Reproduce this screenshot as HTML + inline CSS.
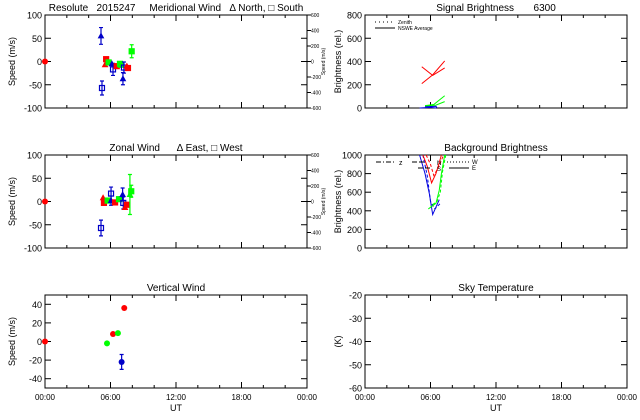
<!DOCTYPE html>
<html><head><meta charset="utf-8"><style>
body{margin:0;background:#fff}
svg{display:block;font-family:"Liberation Sans",sans-serif}
svg text{white-space:pre}
</style></head><body>
<svg id="c" width="640" height="420" viewBox="0 0 640 420" xml:space="preserve"></svg>
<script>
// ---------- data ----------
const hourTicks=[0,6,12,18,24];
const hourLabels=["00:00","06:00","12:00","18:00","00:00"];
const merH=[0,5.13,5.22,5.5,5.6,5.83,6.13,6.23,6.57,6.87,6.96,7.14,7.23,7.5,7.6,7.94];
const merV=[0,55,-57,-7,5,-2,-5,-17,-10,-5,-7,-37,-13,-10,-14,22];
const merE=[0,18,15,0,0,0,0,13,0,0,0,13,12,0,0,14];
const merC=["r","b","b","r","r","g","b","b","r","g","g","b","b","r","r","g"];
const merM=["c","t","s","t","s","s","t","s","s","s","s","t","s","t","s","s"];
const zonH=[0,5.13,5.32,5.4,5.74,6.05,6.05,6.42,6.78,7.11,7.17,7.33,7.5,7.78,7.9];
const zonV=[0,-57,8,-3,2,2,17,-2,5,15,-3,-13,-7,15,22];
const zonE=[0,17,0,0,0,10,14,0,0,14,13,0,0,43,13];
const zonC=["r","b","r","r","g","b","b","r","g","b","b","r","r","g","g"];
const zonM=["c","s","t","s","s","t","s","s","s","t","s","t","s","t","s"];
const verH=[0,5.68,6.23,6.68,7.02,7.26];
const verV=[0,-2,8,9,-22,36];
const verE=[0,0,0,0,8,0];
const verC=["r","g","r","g","b","r"];
const sigRed1H=[5.2,6.2,7.3], sigRed1V=[210,285,405];
const sigRed2H=[5.2,6.2,7.3], sigRed2V=[355,280,345];
const sigGrn1H=[5.5,6.3,7.3], sigGrn1V=[20,30,105];
const sigGrn2H=[5.5,6.5,7.3], sigGrn2V=[15,25,55];
const sigBlu1H=[5.0,6.0,6.5], sigBlu1V=[0,5,0];
const sigBlu2H=[5.5,6.5,6.6], sigBlu2V=[10,15,0];
const bgBlu1H=[5.0,5.5,5.9,6.2,6.8], bgBlu1V=[1000,800,580,360,520];
const bgBlu2H=[5.3,5.7,6.0,6.4,6.9], bgBlu2V=[1000,780,500,420,480];
const bgGrn1H=[7.3,7.0,6.8,6.5,5.8], bgGrn1V=[1000,800,620,480,420];
const bgGrn2H=[7.4,7.1,6.9,6.6,6.0], bgGrn2V=[1000,820,600,500,450];
const bgRed1H=[5.3,5.7,6.1,6.5,7.0], bgRed1V=[1000,880,700,800,1000];
const bgRed2H=[5.6,6.0,6.3,6.7,7.2], bgRed2V=[1000,900,780,860,1000];

// ---------- drawing ----------
const svg=document.getElementById('c');
const NS="http://www.w3.org/2000/svg";
const COL={r:"#ff0000",g:"#00ff00",b:"#0000c8"};
function mk(tag,attrs,parent){const e=document.createElementNS(NS,tag);for(const k in attrs)e.setAttribute(k,attrs[k]);(parent||svg).appendChild(e);return e;}
function txt(x,y,s,size,anchor,parent,name){const t=mk('text',{x:x,y:y,'font-size':size,'text-anchor':anchor||'start',fill:'#000'},parent);t.textContent=s;

return t;}
function panel(name,x0,y0,w,h,ymin,ymax,yt,title,ylabel,xlabels,yoff){
  const g=mk('g',{});
  
  
  const xs=hr=>x0+hr/24*w, ys=v=>y0+h-(v-ymin)/(ymax-ymin)*h;
  const f=mk('rect',{x:x0,y:y0,width:w,height:h,fill:'none',stroke:'#000','stroke-width':1},g);
  
  
  for(let hr=0;hr<=24;hr+=2){const L=hr%6==0?6:3;
    mk('line',{x1:xs(hr),x2:xs(hr),y1:y0+h,y2:y0+h-L,stroke:'#000'},g);
    mk('line',{x1:xs(hr),x2:xs(hr),y1:y0,y2:y0+L,stroke:'#000'},g);}
  yt.forEach(v=>{mk('line',{x1:x0,x2:x0+6,y1:ys(v),y2:ys(v),stroke:'#000'},g);
    mk('line',{x1:x0+w,x2:x0+w-6,y1:ys(v),y2:ys(v),stroke:'#000'},g);
    txt(x0-3,ys(v)+3.5,String(v),9,'end',g,'y-tick-label');});
  txt(x0+w/2,y0-4,title,10,'middle',g,'panel-title');
  const yl=txt(0,0,ylabel,9,'middle',g,'y-axis-title');
  yl.setAttribute('transform',`translate(${x0-yoff},${y0+h/2}) rotate(-90)`);
  if(xlabels){hourTicks.forEach((t,i)=>txt(xs(t),y0+h+12,hourLabels[i],8,'middle',g,'x-tick-label'));
    txt(x0+w/2,y0+h+23,'UT',9,'middle',g,'x-axis-title');}
  return {g,xs,ys};
}
function marker(p,hr,v,c,m,err){
  const x=p.xs(hr),y=p.ys(v),col=COL[c];
  if(err){const e=mk('path',{d:`M${x},${p.ys(v-err)}V${p.ys(v+err)}M${x-2},${p.ys(v-err)}h4M${x-2},${p.ys(v+err)}h4`,stroke:col,'stroke-width':1.2,fill:'none'},p.g);
    
    }
  let el;
  if(m=='c')el=mk('circle',{cx:x,cy:y,r:3,fill:col},p.g);
  else if(m=='t')el=mk('path',{d:`M${x-2.5},${y+2}L${x+2.5},${y+2}L${x},${y-2.5}Z`,fill:col,stroke:col},p.g);
  else el=mk('rect',{x:x-2.5,y:y-2.5,width:5,height:5,fill:c=='b'?'none':col,stroke:col,'stroke-width':1.2},p.g);
  
  
}
function line(p,H,V,c,dash){
  const d=H.map((hr,i)=>(i?'L':'M')+p.xs(hr)+','+p.ys(V[i])).join('');
  const l=mk('path',{d:d,fill:'none',stroke:COL[c]=='#0000c8'?'#0000e0':COL[c],'stroke-width':1,'stroke-dasharray':dash||'none'},p.g);
  
  
}
function rightAxis(p,x0,y0,h){
  const labs=["600","400","200","0","-200","-400","-600"];
  labs.forEach((s,i)=>{const y=y0+i*h/6;mk('line',{x1:x0,x2:x0+4,y1:y,y2:y,stroke:'#000'},p.g);txt(x0+4,y+2,s,5,'start',p.g,'right-tick-label');});
  const t=txt(0,0,'Speed (m/s)',5,'middle',p.g,'right-axis-title');
  t.setAttribute('transform',`translate(${x0+18},${y0+h/2}) rotate(-90)`);
}
let p=panel('meridional-wind-panel',45,15,262,93,-100,100,[-100,-50,0,50,100],'Resolute   2015247     Meridional Wind   \u0394 North, \u25A1 South','Speed (m/s)',false,30);
rightAxis(p,307,15,93);
merH.forEach((hr,i)=>marker(p,hr,merV[i],merC[i],merM[i],merE[i]));
p=panel('zonal-wind-panel',45,155,262,93,-100,100,[-100,-50,0,50,100],'Zonal Wind      \u0394 East, \u25A1 West','Speed (m/s)',false,30);
rightAxis(p,307,155,93);
zonH.forEach((hr,i)=>marker(p,hr,zonV[i],zonC[i],zonM[i],zonE[i]));
p=panel('vertical-wind-panel',45,295,262,93,-50,50,[-40,-20,0,20,40],'Vertical Wind','Speed (m/s)',true,30);
verH.forEach((hr,i)=>marker(p,hr,verV[i],verC[i],'c',verE[i]));
p=panel('signal-brightness-panel',365,15,262,93,0,800,[0,200,400,600,800],'Signal Brightness       6300','Brightness (rel.)',false,24);
line(p,sigRed1H,sigRed1V,'r');line(p,sigRed2H,sigRed2V,'r');
line(p,sigGrn1H,sigGrn1V,'g');line(p,sigGrn2H,sigGrn2V,'g');
line(p,sigBlu1H,sigBlu1V,'b');line(p,sigBlu2H,sigBlu2V,'b');
mk('line',{x1:375,x2:395,y1:22,y2:22,stroke:'#000','stroke-dasharray':'1,3'},p.g);
txt(398,24,'Zenith',5,'start',p.g,'legend-entry');
mk('line',{x1:375,x2:395,y1:28,y2:28,stroke:'#000'},p.g);
txt(398,30,'NSWE Average',5,'start',p.g,'legend-entry');
p=panel('background-brightness-panel',365,155,262,93,0,1000,[0,200,400,600,800,1000],'Background Brightness','Brightness (rel.)',false,24);
line(p,bgBlu1H,bgBlu1V,'b');line(p,bgBlu2H,bgBlu2V,'b','3,2');
line(p,bgGrn1H,bgGrn1V,'g');line(p,bgGrn2H,bgGrn2V,'g','3,2');
line(p,bgRed1H,bgRed1V,'r');line(p,bgRed2H,bgRed2V,'r','3,2');
mk('line',{x1:376,x2:395,y1:162,y2:162,stroke:'#000','stroke-dasharray':'5,2,1,2'},p.g);txt(399,165,'z',7,'start',p.g,'legend-entry');
mk('line',{x1:412,x2:425,y1:162,y2:162,stroke:'#000','stroke-dasharray':'5,2'},p.g);txt(437,165,'N',6,'start',p.g,'legend-entry');
mk('line',{x1:418,x2:432,y1:168,y2:168,stroke:'#000','stroke-dasharray':'5,2'},p.g);txt(437,171,'S',6,'start',p.g,'legend-entry');
mk('line',{x1:447,x2:469,y1:162,y2:162,stroke:'#000','stroke-dasharray':'1,2'},p.g);txt(472,164,'W',6,'start',p.g,'legend-entry');
mk('line',{x1:449,x2:469,y1:168,y2:168,stroke:'#000'},p.g);txt(472,170,'E',6,'start',p.g,'legend-entry');
p=panel('sky-temperature-panel',365,295,262,93,-60,-20,[-60,-50,-40,-30,-20],'Sky Temperature','(K)',true,24);
</script>
</body></html>
